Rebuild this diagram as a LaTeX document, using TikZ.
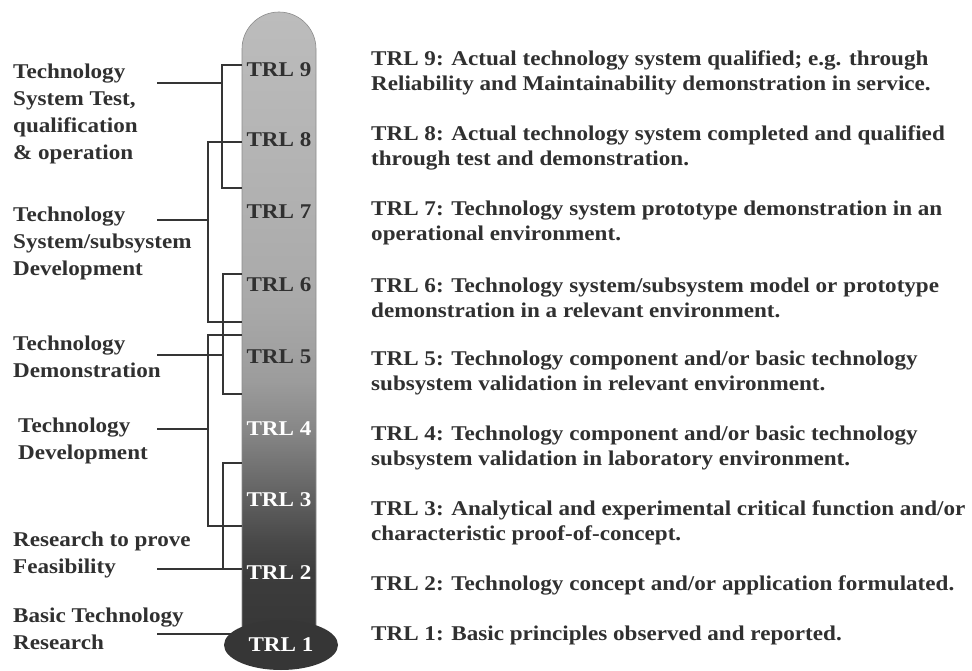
\documentclass[tikz,border=0pt]{standalone}
\usepackage{fontspec}
\setmainfont{Liberation Serif}
\newfontfamily\lblfont[FakeStretch=1.1]{Liberation Serif}
\usetikzlibrary{shapes.geometric}
\definecolor{ink}{HTML}{303030}
\definecolor{wire}{HTML}{353535}
\definecolor{ga}{HTML}{BCBCBC}
\definecolor{gb}{HTML}{B4B4B4}
\definecolor{gc}{HTML}{A9A9A9}
\definecolor{gd}{HTML}{9C9C9C}
\definecolor{ge}{HTML}{868686}
\definecolor{gf}{HTML}{5E5E5E}
\definecolor{gg}{HTML}{484848}
\definecolor{gh}{HTML}{3C3C3C}
\definecolor{gi}{HTML}{363636}
\pgfdeclareverticalshading{tubeshade}{100bp}{color(0bp)=(gi); color(25bp)=(gi); color(30.7bp)=(gh); color(33.3bp)=(gg); color(36.5bp)=(gf); color(42bp)=(ge); color(46bp)=(gd); color(52bp)=(gc); color(64bp)=(gb); color(75bp)=(ga); color(100bp)=(ga)}
\tikzset{
  txt/.style={font=\lblfont\bfseries\fontsize{21}{26}\selectfont, text=ink, inner sep=0pt, align=left},
  desc/.style={txt, anchor=west, font=\lblfont\bfseries\fontsize{21}{25}\selectfont},
  stage/.style={txt, anchor=west, font=\lblfont\bfseries\fontsize{21}{27}\selectfont},
  trl/.style={font=\lblfont\bfseries\fontsize{21}{25}\selectfont, inner sep=0pt},
  trldark/.style={trl, text=ink},
  trllight/.style={trl, text=white},
  wireline/.style={draw=wire, line width=1.8pt}
}
\begin{document}
\begin{tikzpicture}[x=1pt, y=-1pt]
\fill[white] (0,0) rectangle (972,671);
\useasboundingbox (0,0) rectangle (972,671);

% thermometer tube
\path[shading=tubeshade, draw=black!45, line width=0.6pt]
  (242,648) -- (242,49) arc[start angle=180, end angle=0, x radius=37pt, y radius=37pt] -- (316,648) -- cycle;
\node[ellipse, fill=gi, minimum width=114pt, minimum height=50pt, inner sep=0pt] (bulb) at (281,645) {};

% TRL labels in the tube
\node[trldark] (t9) at (279,70) {TRL 9};
\node[trldark] (t8) at (279,140) {TRL 8};
\node[trldark] (t7) at (279,212) {TRL 7};
\node[trldark] (t6) at (279,285) {TRL 6};
\node[trldark] (t5) at (279,357) {TRL 5};
\node[trllight] (t4) at (279,429) {TRL 4};
\node[trllight] (t3) at (279,500) {TRL 3};
\node[trllight] (t2) at (279,573) {TRL 2};
\node[trllight] (t1) at (281,645) {TRL 1};

% stage labels
\node[stage] (s1) at (13,114) {Technology\\System Test,\\qualification\\\& operation};
\node[stage] (s2) at (13,243) {Technology\\System/subsystem\\Development};
\node[stage] (s3) at (13,357) {Technology\\Demonstration};
\node[stage] (s4) at (18,441) {Technology\\Development};
\node[stage] (s5) at (13,555) {Research to prove\\Feasibility};
\node[stage] (s6) at (13,629) {Basic Technology\\Research};

% connector points
\coordinate (a1) at (157,83);  \coordinate (a2) at (157,220);
\coordinate (a3) at (157,355); \coordinate (a4) at (157,429);
\coordinate (a5) at (157,569); \coordinate (a6) at (157,634);

% brackets
\draw[wireline] (242,65) -| (222,188) -- (242,188);
\draw[wireline] (a1) -- (222,83);
\draw[wireline] (242,142) -| (208,322) -- (242,322);
\draw[wireline] (a2) -- (208,220);
\draw[wireline] (242,274) -| (223,394) -- (242,394);
\draw[wireline] (a3) -- (223,355);
\draw[wireline] (242,335) -| (208,526) -- (242,526);
\draw[wireline] (a4) -- (208,429);
\draw[wireline] (242,463) -| (223,569);
\draw[wireline] (a5) -- (242,569);
\draw[wireline] (a6) -- (bulb.west |- a6) -- ++(8,0);

% descriptions
\node[desc] (d9) at (371,72.5) {TRL 9: Actual technology system qualified; e.g. through\\Reliability and Maintainability demonstration in service.};
\node[desc] (d8) at (371,147.5) {TRL 8: Actual technology system completed and qualified\\through test and demonstration.};
\node[desc] (d7) at (371,222.5) {TRL 7: Technology system prototype demonstration in an\\operational environment.};
\node[desc] (d6) at (371,297.5) {TRL 6: Technology system/subsystem model or prototype\\demonstration in a relevant environment.};
\node[desc] (d5) at (371,372.5) {TRL 5: Technology component and/or basic technology\\subsystem validation in relevant environment.};
\node[desc] (d4) at (371,447.5) {TRL 4: Technology component and/or basic technology\\subsystem validation in laboratory environment.};
\node[desc] (d3) at (371,522.5) {TRL 3: Analytical and experimental critical function and/or\\characteristic proof-of-concept.};
\node[desc] (d2) at (371,585) {TRL 2: Technology concept and/or application formulated.};
\node[desc] (d1) at (371,635) {TRL 1: Basic principles observed and reported.};
\end{tikzpicture}
\end{document}
